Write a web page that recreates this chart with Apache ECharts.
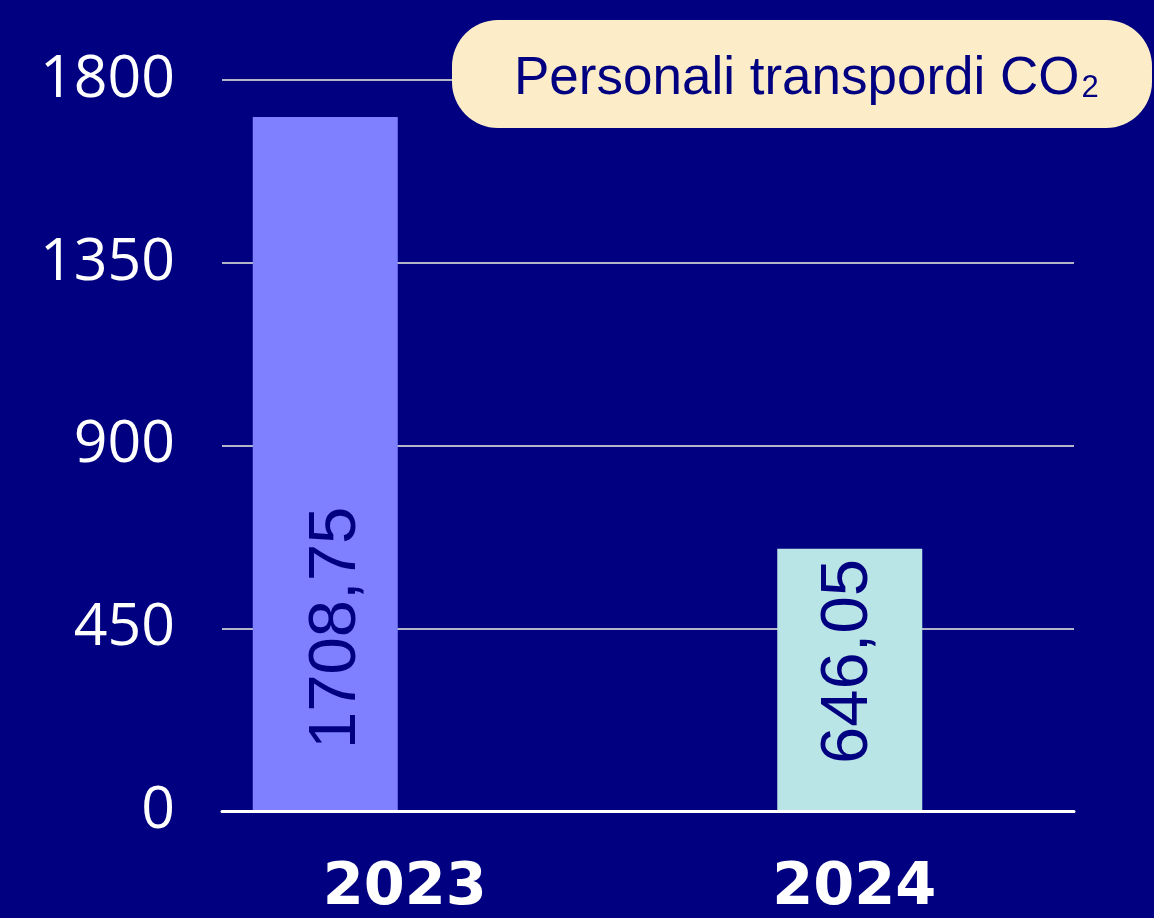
<!DOCTYPE html>
<html>
<head>
<meta charset="utf-8">
<style>
html,body{margin:0;padding:0;background:#000080;}
#chart{width:1154px;height:918px;}
</style>
<script src="https://cdn.jsdelivr.net/npm/echarts@6/dist/echarts.min.js"></script>
</head>
<body>
<div id="chart"></div>
<script>
const categories = ['2023', '2024'];
const values = [1708.75, 646.05];
const barColors = ['#7F80FF', '#BAE5E7'];
const labelDistances = [62, 47];
const labelOffsets = [[0, 11], [0, -1]];
const yTicks = [0, 450, 900, 1350, 1800];
const titleText = 'Personali transpordi CO';
const titleSub = '2';

const chart = echarts.init(document.getElementById('chart'));
const TOP = 80, BOTTOM = 107;
chart.setOption({
  backgroundColor: '#000080',
  animation: false,
  grid: [
    {left: 222, right: 80, top: TOP, bottom: BOTTOM},
    {left: 63, right: 42, top: TOP, bottom: BOTTOM},
    {left: 180, right: 75, top: TOP, bottom: BOTTOM}
  ],
  xAxis: [
    {gridIndex: 0, type: 'category', data: categories, axisLine: {show: true, lineStyle: {color: '#FFFFFF', width: 3}}, axisTick: {show: false}, axisLabel: {show: false}, z: 5},
    {gridIndex: 1, type: 'category', data: categories, axisLine: {show: false}, axisTick: {show: false}, axisLabel: {show: false}},
    {gridIndex: 2, type: 'category', data: categories, axisLine: {show: false}, axisTick: {show: false},
      axisLabel: {show: true, color: '#FFFFFF', fontFamily: 'DejaVu Sans', fontWeight: 'bold', fontSize: 59, margin: 49}}
  ],
  yAxis: [
    {gridIndex: 0, type: 'value', min: yTicks[0], max: yTicks[yTicks.length - 1], interval: 450,
      axisLine: {show: false}, axisTick: {show: false},
      splitLine: {show: true, lineStyle: {color: '#B4B4C8', width: 2}},
      axisLabel: {show: true, color: '#FFFFFF', fontFamily: 'Open Sans', fontWeight: 'normal', fontSize: 59, margin: 47,
        formatter: v => String(v)}},
    {gridIndex: 1, type: 'value', min: yTicks[0], max: yTicks[yTicks.length - 1], interval: 450, show: false},
    {gridIndex: 2, type: 'value', min: 0, max: 1800, show: false}
  ],
  series: [{
    type: 'bar',
    xAxisIndex: 1,
    yAxisIndex: 1,
    barWidth: 145,
    z: 3,
    data: values.map((v, i) => ({
      value: v,
      itemStyle: {color: barColors[i]},
      label: {distance: labelDistances[i], offset: labelOffsets[i]}
    })),
    label: {
      show: true,
      position: 'insideBottom',
      rotate: 90,
      align: 'left',
      verticalAlign: 'middle',
      color: '#000080',
      fontFamily: 'Liberation Sans',
      fontSize: 67,
      formatter: p => p.value.toFixed(2).replace('.', ',')
    }
  }],
  graphic: [
    {type: 'rect', left: 452, top: 20, z: 100, shape: {width: 700, height: 108, r: 46}, style: {fill: '#FCEDC8'}},
    {type: 'text', left: 514, top: 53, z: 101, style: {
      text: titleText + '{sub|' + titleSub + '}',
      fill: '#000080', font: '53px "Liberation Sans"',
      rich: {sub: {fontSize: 31, fontFamily: 'Liberation Sans', fill: '#000080', padding: [18, 0, 0, 2]}}
    }}
  ]
});
</script>
</body>
</html>
